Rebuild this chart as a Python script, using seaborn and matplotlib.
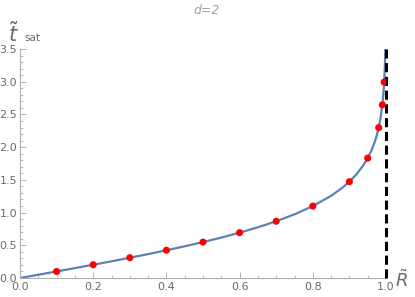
import numpy as np
import pandas as pd
import matplotlib
matplotlib.use("Agg")
import matplotlib.pyplot as plt
import seaborn as sns
from matplotlib.ticker import MultipleLocator

# -----------------------------
# Data
# -----------------------------
curve_R = [0.0, 0.05, 0.1, 0.15, 0.2, 0.25, 0.3, 0.35, 0.4, 0.45, 0.5, 0.55,
           0.6, 0.65, 0.7, 0.75, 0.8, 0.85, 0.88, 0.9, 0.92, 0.94, 0.95, 0.96,
           0.97, 0.975, 0.98, 0.985, 0.99, 0.993, 0.995, 0.997, 0.998, 0.9982]
curve_t = [0.0, 0.050, 0.100, 0.151, 0.203, 0.255, 0.310, 0.365, 0.424, 0.485,
           0.549, 0.618, 0.693, 0.775, 0.867, 0.973, 1.099, 1.256, 1.376, 1.472,
           1.589, 1.738, 1.832, 1.946, 2.092, 2.185, 2.298, 2.443, 2.647, 2.826,
           2.995, 3.250, 3.453, 3.506]

point_R = [0.1, 0.2, 0.3, 0.4, 0.5, 0.6, 0.7, 0.8, 0.9, 0.95, 0.98, 0.99, 0.995]
point_t = [0.100, 0.203, 0.310, 0.424, 0.549, 0.693, 0.867, 1.099, 1.472,
           1.832, 2.298, 2.647, 2.995]

curve = pd.DataFrame({"R": curve_R, "t": curve_t})
points = pd.DataFrame({"R": point_R, "t": point_t})

sns.set_style("ticks")
plt.rcParams['font.family'] = ['DejaVu Sans']
plt.rcParams['mathtext.fontset'] = 'dejavusans'

axis_gray = "#b0b0b0"
label_gray = "#6a6a6a"

fig = plt.figure(figsize=(4.15, 2.97), dpi=100)
ax = fig.add_axes([20 / 415, 19 / 297, 366 / 415, 229 / 297])

sns.lineplot(data=curve, x="R", y="t", ax=ax, color="#5E81B5", lw=1.6,
             sort=False, estimator=None)
ax.vlines(1.0, 0, 3.5, colors="black", linestyles=(0, (3.0, 1.5)), lw=2.2,
          clip_on=False, zorder=4)
sns.scatterplot(data=points, x="R", y="t", ax=ax, color="#ff0000", s=26,
                edgecolor="none", zorder=5)

ax.set_xlim(0, 1.0)
ax.set_ylim(0, 3.5)
ax.xaxis.set_major_locator(MultipleLocator(0.2))
ax.xaxis.set_minor_locator(MultipleLocator(0.05))
ax.yaxis.set_major_locator(MultipleLocator(0.5))
ax.yaxis.set_minor_locator(MultipleLocator(0.1))
ax.xaxis.set_major_formatter(matplotlib.ticker.FormatStrFormatter("%.1f"))
ax.yaxis.set_major_formatter(matplotlib.ticker.FormatStrFormatter("%.1f"))

for side in ["top", "right"]:
    ax.spines[side].set_visible(False)
for side in ["left", "bottom"]:
    ax.spines[side].set_color(axis_gray)
    ax.spines[side].set_linewidth(0.8)

ax.tick_params(which="major", direction="in", length=4, width=0.7,
               color=axis_gray, labelcolor=label_gray, labelsize=8, pad=3)
ax.tick_params(which="minor", direction="in", length=2.2, width=0.6,
               color=axis_gray)
ax.tick_params(axis="y", pad=2)

ax.set_xlabel("")
ax.set_ylabel("")
fig.text(395 / 415, 10 / 297, r"$\tilde{R}$", fontsize=13, color=label_gray,
         ha="left", va="baseline")
fig.text(8 / 415, 255 / 297, r"$\tilde{t}$", fontsize=15, color=label_gray,
         ha="left", va="baseline")
fig.text(24 / 415, 256 / 297, "sat", fontsize=7.5, color=label_gray,
         ha="left", va="baseline")
fig.text(207 / 415, 286 / 297, "d=2", fontsize=9, color="#a0a0a0",
         style="italic", ha="center", va="center")

fig.savefig("out.png", dpi=100)
